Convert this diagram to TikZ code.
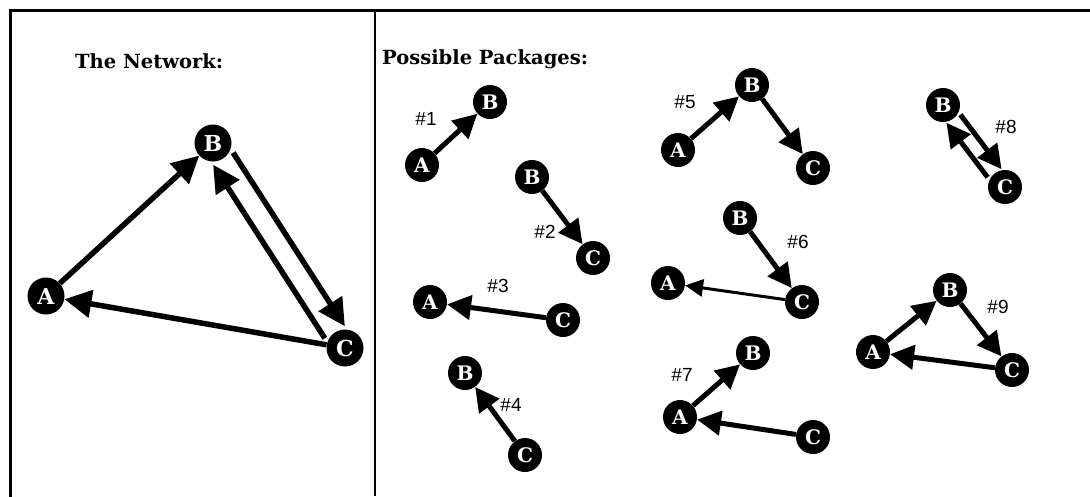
\documentclass[tikz,border=0pt]{standalone}
\usepackage{fontspec}
\setmainfont{DejaVu Serif}
\newfontfamily\labfont{Liberation Sans}
\usetikzlibrary{arrows.meta}
\tikzset{
  frameline/.style={line width=3pt, line cap=rect},
  heading/.style={anchor=west, inner sep=0pt, font=\fontsize{19.5}{20}\selectfont\bfseries},
  bignode/.style={circle, fill=black, text=white, minimum size=37pt, inner sep=0pt,
    font=\fontsize{22}{22}\selectfont\bfseries},
  smallnode/.style={circle, fill=black, text=white, minimum size=34pt, inner sep=0pt,
    font=\fontsize{20}{20}\selectfont\bfseries},
  bigarrow/.style={line width=5.5pt, -{Triangle[length=27pt,width=27pt]}},
  arrow/.style={line width=5pt, -{Triangle[length=24pt,width=24pt]}},
  thinarrow/.style={line width=3pt, -{Triangle[length=18pt,width=17pt]}},
  tag/.style={inner sep=0pt, font=\labfont\fontsize{19}{19}\selectfont},
}
\begin{document}
\begin{tikzpicture}[x=1pt,y=-1pt]
  \useasboundingbox (0,0) rectangle (1090,496);
  % panel borders
  \draw[frameline] (1090,10) -- (10,10) -- (10,496);
  \draw[line width=2pt] (375,10) -- (375,496);

  % headings
  \node[heading] (net) at (75,61) {The Network:};
  \node[heading] (pkg) at (382,59) {Possible Packages:};

  % the full network
  \node[bignode] (A) at (46,296) {A};
  \node[bignode] (B) at (213,143) {B};
  \node[bignode] (C) at (345,348) {C};
  \draw[bigarrow] (A) -- (B);
  \draw[bigarrow, transform canvas={shift={(10pt,6pt)}}] (B) -- (C);
  \draw[bigarrow, transform canvas={shift={(-10pt,-6pt)}}] (C) -- (B);
  \draw[bigarrow] (C) -- (A);

  % package 1
  \node[smallnode] (a1) at (422,165) {A};
  \node[smallnode] (b1) at (490,102) {B};
  \draw[arrow] (a1) -- (b1);
  \node[tag] (t1) at (426,119) {\#1};

  % package 2
  \node[smallnode] (b2) at (532,177) {B};
  \node[smallnode] (c2) at (593,258) {C};
  \draw[arrow] (b2) -- (c2);
  \node[tag] (t2) at (545,232) {\#2};

  % package 3
  \node[smallnode] (a3) at (430,302) {A};
  \node[smallnode] (c3) at (563,320) {C};
  \draw[arrow] (c3) -- (a3);
  \node[tag] (t3) at (498,286) {\#3};

  % package 4
  \node[smallnode] (b4) at (465,373) {B};
  \node[smallnode] (c4) at (525,455) {C};
  \draw[arrow] (c4) -- (b4);
  \node[tag] (t4) at (511,405) {\#4};

  % package 5
  \node[smallnode] (a5) at (678,150) {A};
  \node[smallnode] (b5) at (752,85) {B};
  \node[smallnode] (c5) at (813,168) {C};
  \draw[arrow] (a5) -- (b5);
  \draw[arrow] (b5) -- (c5);
  \node[tag] (t5) at (685,102) {\#5};

  % package 6
  \node[smallnode] (b6) at (740,218) {B};
  \node[smallnode] (a6) at (668,283) {A};
  \node[smallnode] (c6) at (802,302) {C};
  \draw[arrow] (b6) -- (c6);
  \draw[thinarrow] (c6) -- (a6);
  \node[tag] (t6) at (798,242) {\#6};

  % package 7
  \node[smallnode] (a7) at (680,417) {A};
  \node[smallnode] (b7) at (753,353) {B};
  \node[smallnode] (c7) at (813,437) {C};
  \draw[arrow] (a7) -- (b7);
  \draw[arrow] (c7) -- (a7);
  \node[tag] (t7) at (682,375) {\#7};

  % package 8
  \node[smallnode] (b8) at (943,105) {B};
  \node[smallnode] (c8) at (1005,187) {C};
  \draw[arrow, transform canvas={shift={(7pt,4pt)}}] (b8) -- (c8);
  \draw[arrow, transform canvas={shift={(-7pt,-4pt)}}] (c8) -- (b8);
  \node[tag] (t8) at (1006,127) {\#8};

  % package 9
  \node[smallnode] (a9) at (873,352) {A};
  \node[smallnode] (b9) at (950,290) {B};
  \node[smallnode] (c9) at (1012,370) {C};
  \draw[arrow] (a9) -- (b9);
  \draw[arrow] (b9) -- (c9);
  \draw[arrow] (c9) -- (a9);
  \node[tag] (t9) at (998,307) {\#9};
\end{tikzpicture}
\end{document}
